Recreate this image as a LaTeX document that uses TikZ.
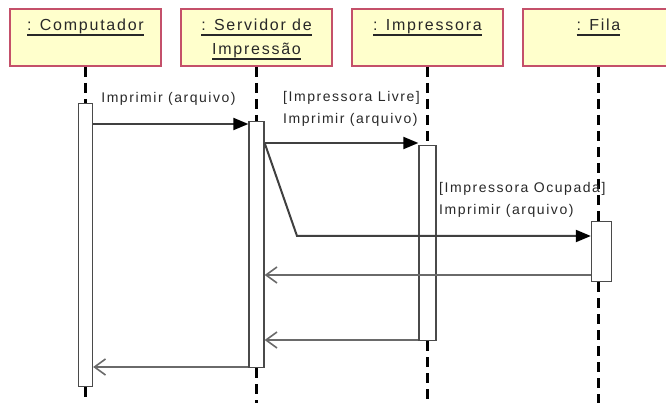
\documentclass[tikz,border=0pt]{standalone}
\usepackage{fontspec}
\setmainfont{Liberation Sans}
\newfontfamily\diagfont[LetterSpace=11]{Liberation Sans}
\usetikzlibrary{positioning,arrows.meta,calc}
\definecolor{hdrfill}{HTML}{FFFFCC}
\definecolor{hdrline}{HTML}{C4506A}
\definecolor{msgline}{HTML}{404040}
\definecolor{retline}{HTML}{6A6A6A}
\definecolor{actline}{HTML}{4A4A4A}
\definecolor{txtgray}{HTML}{282828}
\newcommand\ulname[1]{\setbox0\hbox{#1}\rlap{\vrule width\wd0 height -3.5pt depth 4.6pt}\box0}

\begin{document}
\begin{tikzpicture}[
      x=1pt, y=-1pt,
      obj/.style={
        rectangle,
        draw=hdrline,
        fill=hdrfill,
        line width=2pt,
        minimum width=151pt,
        minimum height=57pt,
        inner sep=0pt,
      },
      objname/.style={
        font=\diagfont\fontsize{16}{24}\selectfont,
        text=txtgray,
        align=center,
        anchor=base,
        inner sep=0pt,
      },
      act/.style={
        rectangle,
        draw=actline,
        fill=white,
        line width=1.3pt,
        inner sep=0pt,
      },
      life/.style={black, line width=3pt, dash pattern=on 10pt off 6pt},
      msg/.style={draw=msgline, line width=2pt, -{Triangle[length=15pt,width=12pt,color=black]}},
      ret/.style={draw=retline, line width=2pt, -{Straight Barb[length=11pt,width=16pt,line width=1.6pt]}},
      msglabel/.style={
        font=\diagfont\fontsize{14}{22}\selectfont,
        text=txtgray,
        align=left,
        inner sep=0pt,
      }
      ]
      \useasboundingbox (0,0) rectangle (666,403);
      % objects
      \node[obj] (comp) at (85.5,37.5) {};
      \node[obj, right=18pt of comp] (serv) {};
      \node[obj, right=18pt of serv] (impr) {};
      \node[obj, right=18pt of impr] (fila) {};
      \node[objname] (compName) at ($(comp.north)+(0,23)$) {\ulname{: Computador}};
      % base is the last line here
      \node[objname] (servName) at ($(serv.north)+(0,47)$) {\ulname{: Servidor de}\\\ulname{Impressão}};
      \node[objname] (imprName) at ($(impr.north)+(0,23)$) {\ulname{: Impressora}};
      \node[objname] (filaName) at ($(fila.north)+(0,23)$) {\ulname{: Fila}};
      % activations
      \node[act, below=36pt of comp, minimum width=14pt, minimum height=283pt] (actComp) {};
      \node[act, below=54pt of serv, minimum width=15pt, minimum height=246pt] (actServ) {};
      \node[act, below=78pt of impr, minimum width=17pt, minimum height=195pt] (actImpr) {};
      \node[act, below=154pt of fila, xshift=3pt, minimum width=20pt, minimum height=60pt] (actFila) {};
      % lifelines
      \coordinate (bottom) at (0,403);
      \foreach \o/\a in {comp/actComp, serv/actServ, impr/actImpr, fila/actFila} {
        \draw[life] (\o.south) -- (\o.south |- \a.north);
        \draw[life] (\o.south |- \a.south) -- (\o.south |- bottom);
      }
      % messages
      \coordinate (y1) at (0,124);
      \coordinate (y2) at (0,143);
      \coordinate (bend) at (297,236);
      \coordinate (y4) at (0,275);
      \coordinate (y5) at (0,340);
      \coordinate (y6) at (0,367);
      \draw[msg] (actComp.east |- y1) -- (actServ.west |- y1);
      \draw[msg] (actServ.east |- y2) -- (actImpr.west |- y2);
      \draw[msg] (actServ.east |- y2) -- (bend) -- (actFila.west |- bend);
      \draw[ret] (actFila.west |- y4) -- (actServ.east |- y4);
      \draw[ret] (actImpr.west |- y5) -- (actServ.east |- y5);
      \draw[ret] (actServ.west |- y6) -- (actComp.east |- y6);
      \node[msglabel] (lblComp) at (168.5,99) {Imprimir (arquivo)};
      \node[msglabel, anchor=west] (lblLivre) at (283,109) {[Impressora Livre]\\Imprimir (arquivo)};
      \node[msglabel, anchor=west] (lblOcup) at (439,200) {[Impressora Ocupada]\\Imprimir (arquivo)};
    \end{tikzpicture}
\end{document}
